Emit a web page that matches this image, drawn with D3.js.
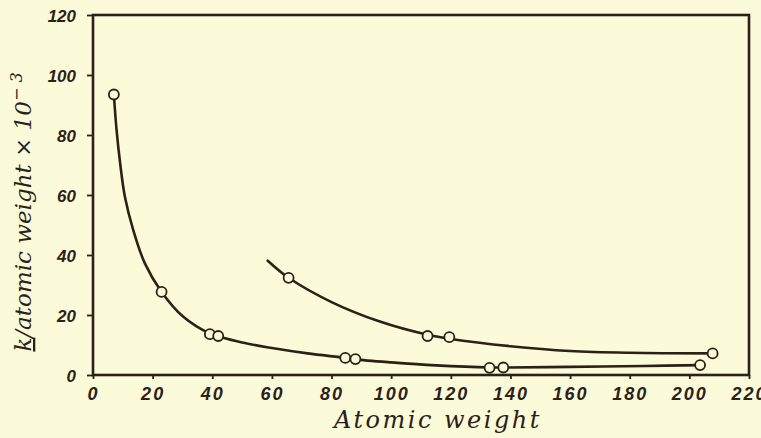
<!DOCTYPE html>
<html>
<head>
<meta charset="utf-8">
<script src="https://cdn.jsdelivr.net/npm/d3@7/dist/d3.min.js"></script>
<style>
  html, body { margin: 0; padding: 0; background: #fbfad9; }
  svg { display: block; }
</style>
</head>
<body>
<svg id="chart" width="761" height="438"></svg>
<script>
// Tick values on both axes
const xTickValues = [0, 20, 40, 60, 80, 100, 120, 140, 160, 180, 200, 220];
const yTickValues = [0, 20, 40, 60, 80, 100, 120];

// Observed points (atomic weight, k / atomic weight × 10^-3)
const lowerPointsX = [7, 23, 39.2, 42, 84.6, 88, 133, 137.6, 203.6];
const lowerPointsY = [93.5, 27.7, 13.6, 13.0, 5.7, 5.3, 2.4, 2.5, 3.3];
const upperPointsX = [65.6, 112.2, 119.5, 207.8];
const upperPointsY = [32.4, 13.0, 12.6, 7.2];

// Smooth curves drawn through the observations
const lowerCurveX = [7, 7.9, 9.1, 10.7, 13.5, 17.4, 23, 30.3, 39.2, 42, 50, 60, 72, 84.6, 88, 100, 115, 133, 137.6, 160, 185, 203.6];
const lowerCurveY = [93.5, 81.7, 70.6, 59.4, 48.3, 37.2, 27.7, 19.4, 13.8, 12.9, 10.8, 9.0, 7.2, 5.7, 5.2, 4.2, 3.2, 2.5, 2.5, 2.7, 3.0, 3.3];
const upperCurveX = [58.6, 65.6, 80, 96.2, 112.2, 119.5, 140, 160, 180, 207.8];
const upperCurveY = [38.1, 32.4, 24.3, 17.8, 13.4, 12.1, 9.6, 8.0, 7.4, 7.2];

const ink = "#2b2118";
const paper = "#fbfad9";

const svg = d3.select("#chart");
svg.append("rect").attr("width", 761).attr("height", 438).attr("fill", paper);

const x = d3.scaleLinear().domain([0, 220]).range([93, 749]);
const y = d3.scaleLinear().domain([0, 120]).range([375, 15]);

// Frame around the plotting area
svg.append("rect")
  .attr("x", x(0)).attr("y", y(120))
  .attr("width", x(220) - x(0)).attr("height", y(0) - y(120))
  .attr("fill", "none").attr("stroke", ink).attr("stroke-width", 2.6);

// Axes
const xAxis = svg.append("g")
  .attr("transform", `translate(0,${y(0)})`)
  .call(d3.axisBottom(x).tickValues(xTickValues).tickSize(4).tickPadding(8).tickFormat(d3.format("d")));
const yAxis = svg.append("g")
  .attr("transform", `translate(${x(0)},0)`)
  .call(d3.axisLeft(y).tickValues(yTickValues).tickSize(6).tickPadding(11).tickFormat(d3.format("d")));

[xAxis, yAxis].forEach(g => {
  g.select(".domain").remove();
  g.selectAll(".tick line").attr("stroke", ink).attr("stroke-width", 1.8);
  g.selectAll(".tick text")
    .attr("fill", ink)
    .style("font-family", "'Liberation Sans', Arial, sans-serif")
    .style("font-style", "italic")
    .style("font-weight", "bold");
});
xAxis.selectAll(".tick text").style("font-size", "18px").style("letter-spacing", "2px");
yAxis.selectAll(".tick text").style("font-size", "17px").attr("dy", "0.36em");

// Curves
const line = d3.line().x(d => x(d[0])).y(d => y(d[1])).curve(d3.curveCatmullRom.alpha(0.5));
const lowerCurve = lowerCurveX.map((v, i) => [v, lowerCurveY[i]]);
const upperCurve = upperCurveX.map((v, i) => [v, upperCurveY[i]]);
[lowerCurve, upperCurve].forEach(c => {
  svg.append("path").attr("d", line(c))
    .attr("fill", "none").attr("stroke", ink).attr("stroke-width", 2.6)
    .attr("stroke-linecap", "round");
});

// Observation markers
const points = lowerPointsX.map((v, i) => [v, lowerPointsY[i]])
  .concat(upperPointsX.map((v, i) => [v, upperPointsY[i]]));
svg.append("g").selectAll("circle").data(points).join("circle")
  .attr("cx", d => x(d[0])).attr("cy", d => y(d[1])).attr("r", 5)
  .attr("fill", paper).attr("stroke", ink).attr("stroke-width", 1.8);

// Axis titles
svg.append("text")
  .attr("x", 438).attr("y", 428)
  .attr("text-anchor", "middle")
  .attr("fill", ink)
  .style("font-family", "'DejaVu Serif', serif")
  .style("font-style", "italic")
  .style("font-size", "24px")
  .style("letter-spacing", "2.5px")
  .text("Atomic weight");

const yTitle = svg.append("text")
  .attr("transform", "translate(31,212) rotate(-90)")
  .attr("text-anchor", "middle")
  .attr("fill", ink)
  .style("font-family", "'DejaVu Serif', serif")
  .style("font-style", "italic")
  .style("font-size", "23px");
yTitle.append("tspan").style("text-decoration", "underline").text("k");
yTitle.append("tspan").text("/atomic weight \u00d7 10");
yTitle.append("tspan").attr("dy", "-0.55em").style("font-size", "16px").text("\u2212 3");
</script>
</body>
</html>
